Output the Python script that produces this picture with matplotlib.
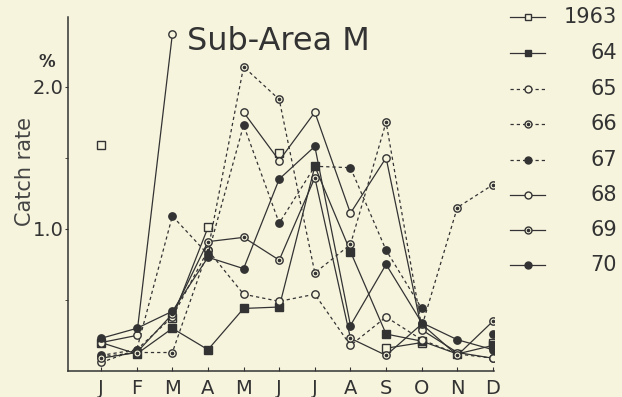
"""Sub-Area M catch rate by month, 1963-70."""

import matplotlib

matplotlib.use("Agg")
import matplotlib.pyplot as plt
import numpy as np

nan = np.nan

months = ["J", "F", "M", "A", "M", "J", "J", "A", "S", "O", "N", "D"]
years = ["1963", "64", "65", "66", "67", "68", "69", "70"]

rate_1963 = [1.59, nan, 0.37, 1.01, nan, 1.53, nan, nan, 0.16, 0.20, nan, 0.20]
rate_1964 = [0.20, 0.12, 0.30, 0.15, 0.44, 0.45, 1.44, 0.84, 0.26, 0.21, 0.12, 0.18]
rate_1965 = [0.06, 0.15, 0.38, 0.85, 0.54, 0.49, 0.54, 0.18, 0.38, 0.22, 0.12, 0.09]
rate_1966 = [0.10, 0.13, 0.13, 0.85, 2.14, 1.91, 0.69, 0.89, 1.75, 0.31, 1.15, 1.31]
rate_1967 = [0.11, 0.15, 1.09, 0.82, 1.73, 1.04, 1.44, 1.43, 0.85, 0.44, nan, 0.26]
rate_1968 = [0.20, 0.25, 2.37, nan, 1.82, 1.48, 1.82, 1.11, 1.50, 0.29, 0.13, 0.09]
rate_1969 = [0.09, 0.13, 0.40, 0.91, 0.94, 0.78, 1.36, 0.23, 0.11, 0.33, 0.11, 0.35]
rate_1970 = [0.23, 0.30, 0.42, 0.80, 0.72, 1.35, 1.58, 0.32, 0.75, 0.34, 0.22, 0.15]

BG = "#f7f4de"
INK = "#333333"
DASH = (2.6, 2.4)

# (values, linestyle, marker, filled, centre dot)
series = [
    (rate_1963, "solid", "s", False, False),
    (rate_1964, "solid", "s", True, False),
    (rate_1965, "dashed", "o", False, False),
    (rate_1966, "dashed", "o", False, True),
    (rate_1967, "dashed", "o", True, False),
    (rate_1968, "solid", "o", False, False),
    (rate_1969, "solid", "o", False, True),
    (rate_1970, "solid", "o", True, False),
]


def draw_series(ax, x, y, style, marker, filled, dot, ms=5.3):
    kw = dict(color=INK, lw=0.9, marker=marker, ms=ms, mew=1.0,
              mfc=INK if filled else BG, mec=INK)
    line, = ax.plot(x, y, **kw)
    if style == "dashed":
        line.set_dashes(DASH)
    if dot:
        ax.plot(x, y, ls="none", marker="o", ms=1.6, color=INK)


fig = plt.figure(figsize=(6.22, 3.97), dpi=100, facecolor=BG)
ax = fig.add_axes([68 / 622, 26 / 397, 426 / 622, 354 / 397], facecolor=BG)

x = np.arange(1, 13)
for vals, style, marker, filled, dot in series:
    draw_series(ax, x, vals, style, marker, filled, dot)

ax.set_xlim(0.07, 12.03)
ax.set_ylim(0, 2.49)
for side in ("top", "right"):
    ax.spines[side].set_visible(False)
for side in ("left", "bottom"):
    ax.spines[side].set_color(INK)
    ax.spines[side].set_linewidth(1.1)

ax.set_xticks(x)
ax.set_xticklabels(months, fontsize=14, color=INK)
ax.tick_params(axis="x", direction="in", length=3, color=INK, pad=6)
ax.set_yticks([1.0, 2.0])
ax.set_yticklabels(["1.0", "2.0"], fontsize=14, color=INK)
ax.set_yticks([0.5, 1.5], minor=True)
ax.tick_params(axis="y", which="both", direction="out", length=2.5, color=INK, pad=0.5)

ax.text(0.28, 0.93, "Sub-Area M", transform=ax.transAxes, fontsize=23,
        color=INK, ha="left", va="center")
fig.text(25 / 622, 1 - 172 / 397, "Catch rate", rotation=90, fontsize=15,
         color="#444444", ha="center", va="center")
fig.text(47 / 622, 1 - 62 / 397, "%", fontsize=12, color=INK, ha="center",
         va="center", fontweight="bold")

# legend drawn by hand so the year labels sit right-aligned
leg = fig.add_axes([500 / 622, 0, 122 / 622, 1], facecolor="none")
leg.set_xlim(500, 622)
leg.set_ylim(397, 0)
leg.axis("off")
leg_y = [17, 53, 89, 124, 160, 195, 230, 265]
for yy, label, (vals, style, marker, filled, dot) in zip(leg_y, years, series):
    line, = leg.plot([510, 545], [yy, yy], color=INK, lw=0.9)
    if style == "dashed":
        line.set_dashes(DASH)
    draw_series(leg, [528], [yy], "solid", marker, filled, dot, ms=5)
    leg.text(617, yy, label, fontsize=15, color=INK, ha="right", va="center")

fig.savefig("out.png", dpi=100, facecolor=BG)
